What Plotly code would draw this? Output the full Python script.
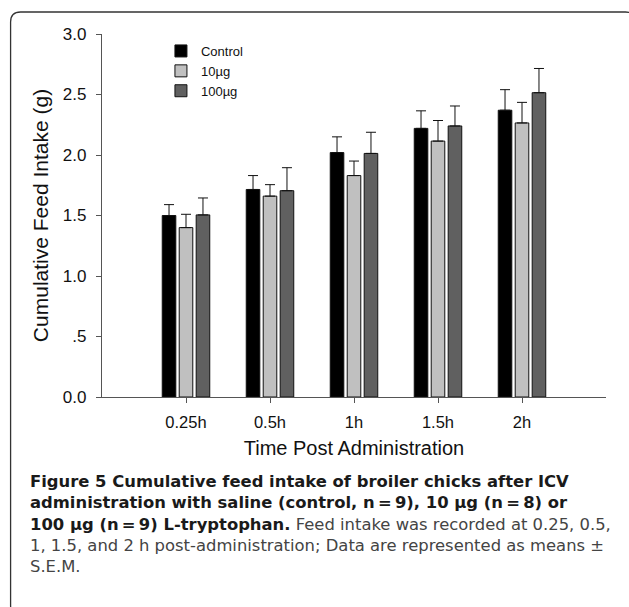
import plotly.graph_objects as go

# ---- data ----
times = ["0.25h", "0.5h", "1h", "1.5h", "2h"]
control = [1.50, 1.715, 2.02, 2.22, 2.37]
control_sem = [0.09, 0.115, 0.13, 0.145, 0.17]
dose10 = [1.40, 1.66, 1.83, 2.115, 2.265]
dose10_sem = [0.11, 0.095, 0.12, 0.17, 0.17]
dose100 = [1.505, 1.705, 2.013, 2.24, 2.515]
dose100_sem = [0.14, 0.19, 0.175, 0.165, 0.20]

y_tickvals = [0, 0.5, 1.0, 1.5, 2.0, 2.5, 3.0]
y_ticktext = ["0.0", ".5", "1.0", "1.5", "2.0", "2.5", "3.0"]

series = [
    ("Control", control, control_sem, "#000000"),
    ("10\u00b5g", dose10, dose10_sem, "#c0c0c0"),
    ("100\u00b5g", dose100, dose100_sem, "#606060"),
]

caption_lines = [
    "<b>Figure 5 Cumulative feed intake of broiler chicks after ICV</b>",
    "<b>administration with saline (control, n\u2009=\u20099), 10 \u00b5g (n\u2009=\u20098) or</b>",
    "<b>100 \u00b5g (n\u2009=\u20099) L-tryptophan.</b>"
    "<span style='color:#444444'> Feed intake was recorded at 0.25, 0.5,</span>",
    "<span style='color:#444444'>1, 1.5, and 2 h post-administration; Data are represented as means \u00b1</span>",
    "<span style='color:#444444'>S.E.M.</span>",
]

W, H = 629, 607
ML, MR, MT, MB = 102, 22.5, 34, 209.7
PW = W - ML - MR
PH = H - MT - MB


def px_x(p):
    return (p - ML) / PW


def px_y(p):
    return (H - MB - p) / PH


fig = go.Figure()
for name, vals, sem, col in series:
    fig.add_trace(go.Bar(
        x=times, y=vals, name=name,
        marker=dict(color=col, line=dict(color="#111111", width=1)),
        error_y=dict(type="data", array=sem, arrayminus=[0] * len(sem),
                     symmetric=False, color="#111111", thickness=1, width=5),
    ))

fig.add_annotation(
    text="<br>".join(caption_lines), xref="paper", yref="paper",
    x=px_x(28), y=px_y(470), xanchor="left", yanchor="top",
    align="left", showarrow=False,
    font=dict(family="DejaVu Sans", size=16.4, color="#1a1a1a"),
)

# rounded frame around the figure
x0, y0, x1, y1, r = px_x(10.5), px_y(12), px_x(636), px_y(616), 10
rx, ry = r / PW, r / PH
path = (f"M {x0},{y0 - ry} Q {x0},{y0} {x0 + rx},{y0} L {x1 - rx},{y0} "
        f"Q {x1},{y0} {x1},{y0 - ry} L {x1},{y1 + ry} Q {x1},{y1} {x1 - rx},{y1} "
        f"L {x0 + rx},{y1} Q {x0},{y1} {x0},{y1 + ry} Z")
fig.add_shape(type="path", path=path, xref="paper", yref="paper",
              line=dict(color="#333333", width=1.3), layer="below")

fig.update_layout(
    width=W, height=H,
    margin=dict(l=ML, r=MR, t=MT, b=MB, pad=0),
    paper_bgcolor="white", plot_bgcolor="white",
    barmode="group", bargap=0.394, bargroupgap=0.2,
    font=dict(family="Liberation Sans", color="#111111"),
    showlegend=True,
    legend=dict(x=px_x(161), y=px_y(36), xanchor="left", yanchor="top",
                font=dict(size=13, family="Liberation Sans"),
                bgcolor="rgba(0,0,0,0)", tracegroupgap=0, itemwidth=30),
)
fig.update_xaxes(
    type="category", range=[-1, 5], showline=True, linecolor="#555555",
    linewidth=1.2, ticks="outside", ticklen=5, tickcolor="#555555",
    tickfont=dict(size=16.5), showgrid=False, zeroline=False,
    ticklabelstandoff=5,
    title=dict(text="Time Post Administration", font=dict(size=20), standoff=11),
)
fig.update_yaxes(
    range=[0, 3], tickvals=y_tickvals, ticktext=y_ticktext,
    showline=True, linecolor="#555555", linewidth=1.2, ticks="outside",
    ticklen=5, tickcolor="#555555", tickfont=dict(size=17),
    showgrid=False, zeroline=False, ticklabelstandoff=6,
    title=dict(text="Cumulative Feed Intake (g)", font=dict(size=21), standoff=8),
)

fig.write_html("out.html", config={"displayModeBar": False},
               post_script="document.body.style.margin='0px';")
